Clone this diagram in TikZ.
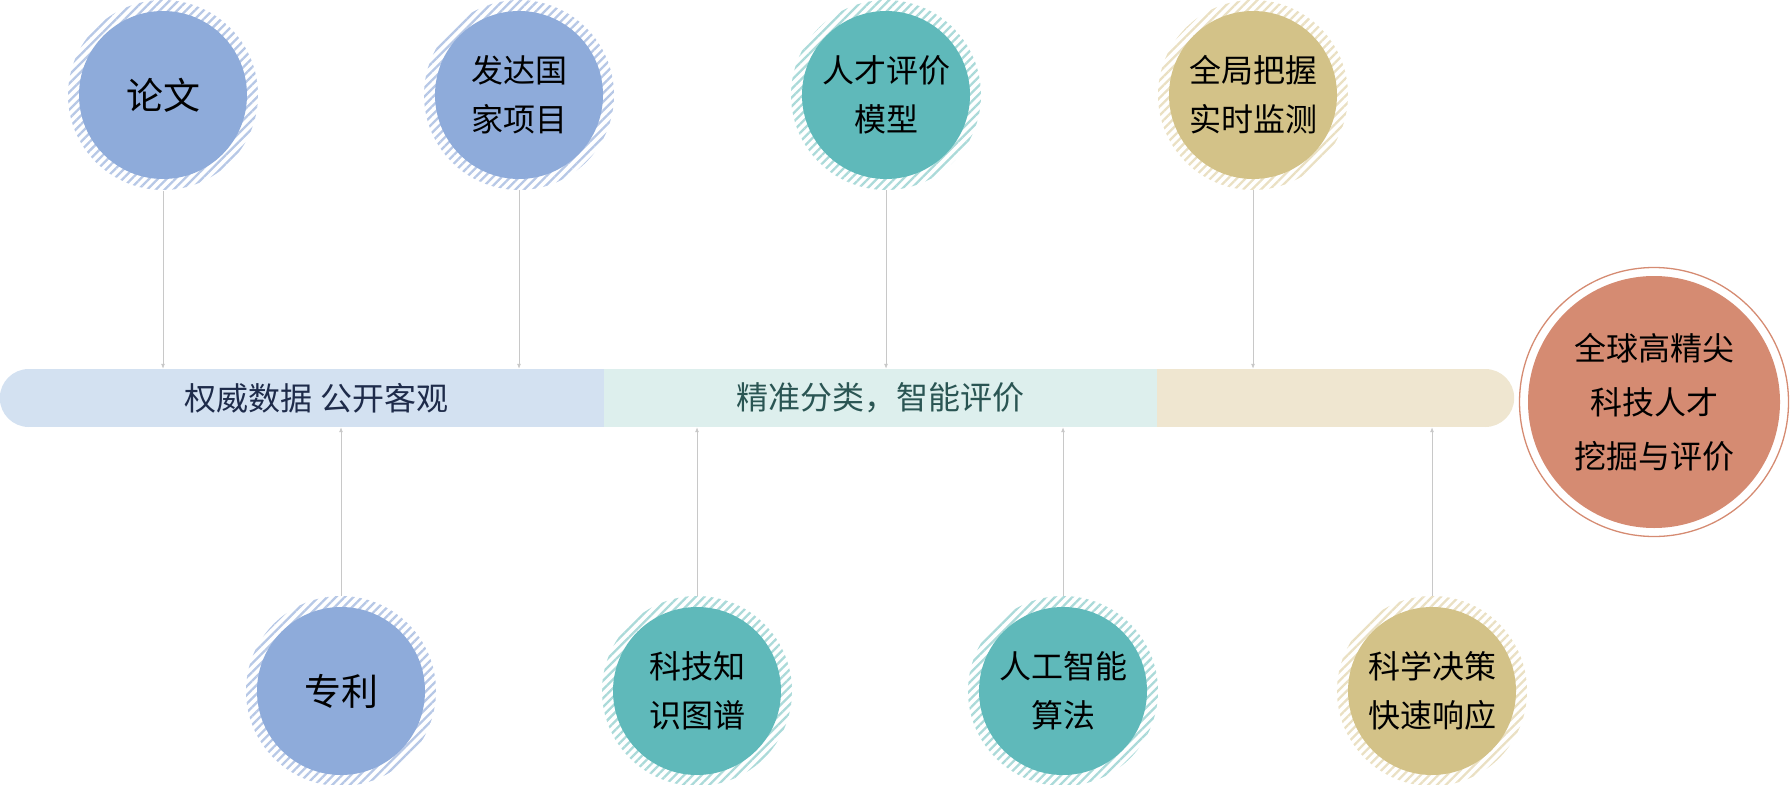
\documentclass[tikz,border=0pt]{standalone}
\usepackage{fontspec}
\newfontfamily\cjk{Noto Sans CJK SC}
\usetikzlibrary{arrows.meta,patterns.meta}
\definecolor{dotblue}{HTML}{8EABDA}
\definecolor{hatchblue}{HTML}{B7C8E6}
\definecolor{dotteal}{HTML}{5FB9BA}
\definecolor{hatchteal}{HTML}{ABDAD9}
\definecolor{dotgold}{HTML}{D3C288}
\definecolor{hatchgold}{HTML}{EAE0C3}
\definecolor{goalred}{HTML}{D58B72}
\definecolor{barblue}{HTML}{D3E1F1}
\definecolor{barteal}{HTML}{DDEFED}
\definecolor{bargold}{HTML}{EFE6D0}
\definecolor{textblue}{HTML}{1E2B4A}
\definecolor{textteal}{HTML}{2A5553}
\definecolor{linegray}{HTML}{C8C8C8}
\tikzset{
  ring/.style={circle,minimum size=190pt,inner sep=0pt,
    pattern={Lines[angle=45,distance=6.2pt,line width=2.3pt]},pattern color=#1},
  ball/.style={circle,minimum size=168pt,inner sep=0pt,fill=#1,align=center,
    text=black,font=\cjk\fontsize{32}{49}\selectfont},
  big/.style={font=\cjk\fontsize{37}{44}\selectfont},
  seg/.style={rectangle,minimum height=58pt,inner sep=0pt,fill=#1,
    font=\cjk\fontsize{32}{38}\selectfont},
  link/.style={draw=linegray,line width=0.8pt,-{Latex[length=5pt,width=4pt]}},
}
\begin{document}
\begin{tikzpicture}[x=1pt,y=-1pt]
    \useasboundingbox (0,0) rectangle (1790,784);
    % bar
    \node[seg=barblue,minimum width=575pt,text=textblue] (bar1) at (316.5,398) {权威数据 公开客观};
    \node[seg=barteal,minimum width=553pt,text=textteal] (bar2) at (880.5,398) {精准分类，智能评价};
    \node[seg=bargold,minimum width=328pt] (bar3) at (1321,398) {};
    \fill[barblue] (bar1.west) circle (29pt);
    \fill[bargold] (bar3.east) circle (29pt);
    % hatched rings
    \begin{scope}
      \node[ring=hatchblue] (r1) at (163,95) {};
      \node[ring=hatchblue] (r2) at (519,95) {};
      \node[ring=hatchteal] (r3) at (886,95) {};
      \node[ring=hatchgold] (r4) at (1253,95) {};
      \node[ring=hatchblue] (r5) at (341,691) {};
      \node[ring=hatchteal] (r6) at (697,691) {};
      \node[ring=hatchteal] (r7) at (1063,691) {};
      \node[ring=hatchgold] (r8) at (1432,691) {};
    \end{scope}
    % circles
    \begin{scope}
      \node[ball=dotblue,big] (paper) at (r1) {论文};
      \node[ball=dotblue] (project) at (r2) {发达国\\家项目};
      \node[ball=dotteal] (model) at (r3) {人才评价\\模型};
      \node[ball=dotgold] (monitor) at (r4) {全局把握\\实时监测};
      \node[ball=dotblue,big] (patent) at (r5) {专利};
      \node[ball=dotteal] (graph) at (r6) {科技知\\识图谱};
      \node[ball=dotteal] (algo) at (r7) {人工智能\\算法};
      \node[ball=dotgold] (decide) at (r8) {科学决策\\快速响应};
    \end{scope}
    \node[circle,minimum size=252pt,inner sep=0pt,fill=goalred,align=center,
      font=\cjk\fontsize{32}{54}\selectfont] (goal) at (1654,402) {全球高精尖\\科技人才\\挖掘与评价};
    \draw[goalred,line width=1.3pt] (goal.center) circle (134.5pt);
    % connectors
    \begin{scope}
      \path[link] (r1.south) -- (r1.south |- bar1.north);
      \path[link] (r2.south) -- (r2.south |- bar1.north);
      \path[link] (r3.south) -- (r3.south |- bar2.north);
      \path[link] (r4.south) -- (r4.south |- bar3.north);
      \path[link] (r5.north) -- (r5.north |- bar1.south);
      \path[link] (r6.north) -- (r6.north |- bar2.south);
      \path[link] (r7.north) -- (r7.north |- bar2.south);
      \path[link] (r8.north) -- (r8.north |- bar3.south);
    \end{scope}
\end{tikzpicture}
\end{document}
